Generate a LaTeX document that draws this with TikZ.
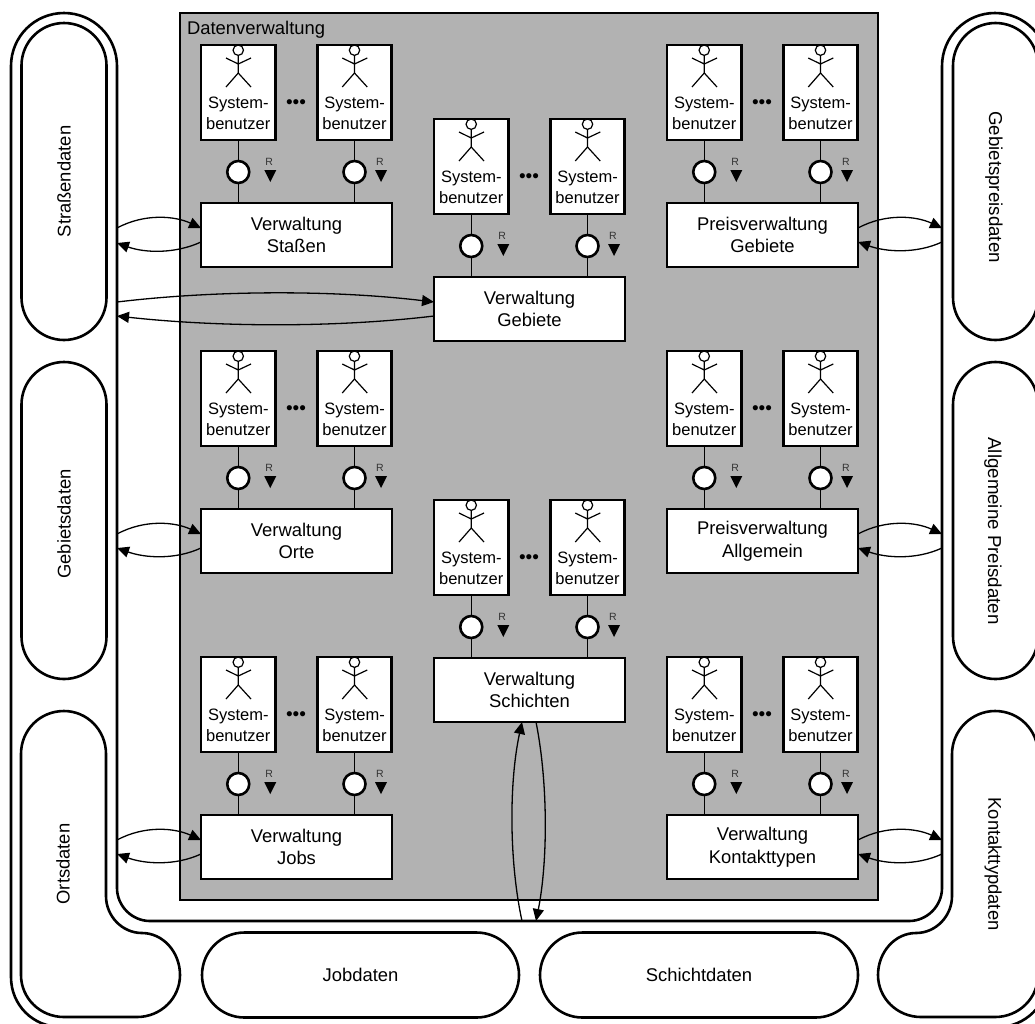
\documentclass[tikz,border=0pt]{standalone}
\usepackage{fontspec}
\setmainfont{Liberation Sans}
\usetikzlibrary{arrows.meta}
\tikzset{
  heavy/.style={draw=black,line width=2.6pt},
  panel/.style={heavy,fill=panelgray,rectangle,inner sep=0pt,outer sep=0pt},
  store/.style={heavy,fill=white,rectangle,rounded corners=42.5pt,inner sep=0pt,outer sep=0pt,minimum width=317pt,minimum height=85pt,font=\fontsize{18.4}{22}\selectfont},
  freeshape/.style={heavy,fill=white},
  plainlabel/.style={inner sep=0pt,outer sep=0pt,font=\fontsize{18.4}{22}\selectfont},
  widerlabel/.style={inner sep=0pt,outer sep=0pt,font=\fontsize{18.7}{22}\selectfont},
  userbox/.style={heavy,fill=white,rectangle,inner sep=0pt,outer sep=0pt,minimum width=74.5pt,minimum height=95pt},
  userlabel/.style={inner sep=0pt,outer sep=0pt,align=center,font=\fontsize{16.5}{21}\selectfont},
  figure/.style={line width=1.2pt,draw=black},
  ring/.style={heavy,fill=white,circle,inner sep=0pt,outer sep=0pt,minimum size=22pt},
  thin link/.style={line width=1.5pt,draw=black},
  flowmark/.style={fill=black,draw=none},
  rmark/.style={inner sep=0pt,outer sep=0pt,text=black!80,font=\fontsize{10.5}{11}\selectfont},
  dotsmark/.style={inner sep=0pt,outer sep=0pt,font=\fontsize{19}{20}\selectfont},
  manager/.style={heavy,fill=white,rectangle,inner sep=0pt,outer sep=0pt,minimum width=191pt,minimum height=64pt,align=center,font=\fontsize{18.4}{22.5}\selectfont},
  conn/.style={line width=1.3pt,draw=black,-{Triangle[length=12pt,width=11pt]}},
}
\definecolor{panelgray}{HTML}{B2B2B2}
% one user: name, left x, top y, x offset of the R mark
\newcommand{\sysuser}[4]{%
  \begin{scope}[shift={(#2,#3)}]
    \node[userbox] (#1box) at (37.25,47.5) {};
    \draw[figure] (37.25,10) -- (37.25,28) (25,13) -- (37.25,19) -- (50,13) (25,42) -- (37.25,28) -- (50,42);
    \draw[figure,fill=white] (37.25,5.2) circle (5.2);
    \node[userlabel] (#1text) at (37.25,68) {System-\\benutzer};
    \node[ring] (#1ring) at (37.25,127) {};
    \node[rmark] (#1r) at (37.25+#4-1,117) {R};
    \fill[flowmark] (37.25+#4-6,125) -- (37.25+#4+6,125) -- (37.25+#4,137) -- cycle;
  \end{scope}
  \draw[thin link] (#1box) -- (#1ring);
}
% a manager with two users: name, left x, top y, text
\newcommand{\unit}[4]{%
  \sysuser{#1a}{#2}{#3}{32}
  \sysuser{#1b}{#2+116.25}{#3}{26.5}
  \node[dotsmark] (#1dots) at (#2+95,#3+59) {•••};
  \node[manager] (#1) at (#2+95.5,#3+190) {#4};
  \draw[thin link] (#1aring) -- (#1aring |- #1.north);
  \draw[thin link] (#1bring) -- (#1bring |- #1.north);
}
\newcommand{\hpair}[4]{%
  \draw[conn] (#1) .. controls +(28,-15) and +(-26,-12) .. (#2);
  \draw[conn] (#4) .. controls +(-26,12) and +(28,10) .. (#3);
}
\begin{document}
\begin{tikzpicture}[x=1pt,y=-1pt]
\useasboundingbox (0,0) rectangle (1035,1023);
\clip (0,0) rectangle (1035,1023);
% surrounding band
\draw[freeshape] (11,66) .. controls (11,36.7) and (34.7,13) .. (64,13) .. controls (93.3,13) and (117,36.7) .. (117,66)
  -- (117,888) .. controls (117,906) and (132,921) .. (150,921) -- (909,921) .. controls (927,921) and (942,906) .. (942,888)
  -- (942,66) .. controls (942,36.7) and (965.7,13) .. (995,13) .. controls (1024.3,13) and (1048,36.7) .. (1048,66)
  -- (1048,977) .. controls (1048,1005) and (1025,1027) .. (998,1027) -- (61,1027) .. controls (33,1027) and (11,1005) .. (11,977) -- cycle;
% data stores
\node[store,rotate=90] (strassen) at (64,181.5) {Straßendaten};
\node[store,rotate=90] (gebietsd) at (64,520.5) {};
\node[plainlabel,rotate=90] (gebietst) at (64,524) {Gebietsdaten};
\node[store,rotate=-90] (gebpreis) at (995.5,181.5) {};
\node[widerlabel,rotate=-90] (gebpreist) at (994,187) {Gebietspreisdaten};
\node[store,rotate=-90] (allgpreis) at (995.5,520.5) {};
\node[widerlabel,rotate=-90] (allgpreist) at (993,531) {Allgemeine Preisdaten};
\node[store,anchor=center] (jobd) at (360.5,975) {Jobdaten};
\node[store,anchor=center,minimum width=318pt] (schichtd) at (699,975) {Schichtdaten};
\draw[freeshape] (21,754) .. controls (21,730) and (40,711) .. (64,711) .. controls (87,711) and (106,730) .. (106,754)
  -- (106,896) .. controls (106,916) and (122,933) .. (142,933) .. controls (163,933) and (180,952) .. (180,975)
  .. controls (180,998) and (161,1017) .. (137,1017) -- (64,1017) .. controls (40,1017) and (21,998) .. (21,975) -- cycle;
\node[plainlabel,rotate=90] (ortsd) at (63,864) {Ortsdaten};
\draw[freeshape] (1038,754) .. controls (1038,730) and (1019,711) .. (995,711) .. controls (972,711) and (952,730) .. (952,754)
  -- (952,896) .. controls (952,916) and (936,933) .. (916,933) .. controls (895,933) and (878,952) .. (878,975)
  .. controls (878,998) and (897,1017) .. (921,1017) -- (995,1017) .. controls (1019,1017) and (1038,998) .. (1038,975) -- cycle;
\node[plainlabel,rotate=-90] (kontaktd) at (993,864) {Kontakttypdaten};
% main panel
\node[panel,minimum width=698pt,minimum height=887pt] (panel) at (529,456.5) {};
\node[plainlabel,anchor=base west] (paneltitle) at (187,34) {Datenverwaltung};
% units
\unit{vs}{201}{45}{Verwaltung\\Staßen}
\unit{vo}{201}{351}{Verwaltung\\Orte}
\unit{vj}{201}{657}{Verwaltung\\Jobs}
\unit{vg}{434}{119}{Verwaltung\\Gebiete}
\unit{vh}{434}{500}{Verwaltung\\Schichten}
\unit{pg}{667}{45}{Preisverwaltung\\Gebiete}
\unit{pa}{667}{351}{Preisverwaltung\\Allgemein}
\unit{vk}{667}{657}{Verwaltung\\Kontakttypen}
% connector ends on the band
\coordinate (l1a) at (117,228); \coordinate (l1b) at (117,243);
\coordinate (l2a) at (117,302); \coordinate (l2b) at (117,316);
\coordinate (l3a) at (117,534); \coordinate (l3b) at (117,548);
\coordinate (l4a) at (117,840); \coordinate (l4b) at (117,854);
\coordinate (r1a) at (942,228); \coordinate (r1b) at (942,242);
\coordinate (r2a) at (942,534); \coordinate (r2b) at (942,548);
\coordinate (r3a) at (942,840); \coordinate (r3b) at (942,854);
\coordinate (b1) at (522,921); \coordinate (b2) at (536,921);
% connectors
\hpair{l1a}{[yshift=7pt]vs.west}{l1b}{[yshift=-7pt]vs.west}
\draw[conn] (l2a) .. controls +(100,-12) and +(-100,-12) .. ([yshift=7pt]vg.west);
\draw[conn] ([yshift=-7pt]vg.west) .. controls +(-100,12) and +(100,11) .. (l2b);
\hpair{l3a}{[yshift=7pt]vo.west}{l3b}{[yshift=-7pt]vo.west}
\hpair{l4a}{[yshift=7pt]vj.west}{l4b}{[yshift=-7pt]vj.west}
\hpair{[yshift=7pt]pg.east}{r1a}{[yshift=-7pt]pg.east}{r1b}
\hpair{[yshift=7pt]pa.east}{r2a}{[yshift=-7pt]pa.east}{r2b}
\hpair{[yshift=7pt]vk.east}{r3a}{[yshift=-7pt]vk.east}{r3b}
\draw[conn] (b1) .. controls +(-13,-60) and +(-13,60) .. (b1 |- vh.south);
\draw[conn] (b2 |- vh.south) .. controls +(12,60) and +(12,-60) .. (b2);
\end{tikzpicture}
\end{document}
